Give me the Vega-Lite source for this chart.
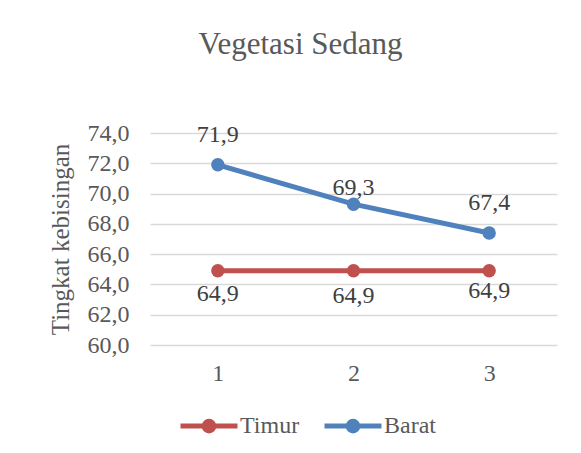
{
  "$schema": "https://vega.github.io/schema/vega-lite/v6.json",
  "width": 407,
  "height": 212,
  "autosize": {"type": "none"},
  "padding": {"left": 150, "top": 133, "right": 24, "bottom": 108},
  "background": "white",
  "config": {
    "locale": {"number": {"decimal": ",", "thousands": ".", "grouping": [3], "currency": ["", ""]}},
    "font": "Liberation Serif",
    "view": {"stroke": null},
    "axis": {"labelFont": "Liberation Serif", "titleFont": "Liberation Serif", "labelColor": "#595959", "titleColor": "#595959", "labelFontSize": 24, "titleFontSize": 25, "titleFontWeight": "normal"}
  },
  "title": {"text": "Vegetasi Sedang", "font": "Liberation Serif", "fontSize": 31, "fontWeight": "normal", "color": "#595959", "anchor": "middle", "dx": -53, "offset": 60},
  "data": {"values": [
    {"titik": "1", "sisi": "Timur", "nilai": 64.9},
    {"titik": "2", "sisi": "Timur", "nilai": 64.9},
    {"titik": "3", "sisi": "Timur", "nilai": 64.9},
    {"titik": "1", "sisi": "Barat", "nilai": 71.9},
    {"titik": "2", "sisi": "Barat", "nilai": 69.3},
    {"titik": "3", "sisi": "Barat", "nilai": 67.4}
  ]},
  "encoding": {
    "x": {"field": "titik", "type": "ordinal", "axis": {"title": null, "labelAngle": 0, "domain": false, "ticks": false, "labelPadding": 16}},
    "y": {"field": "nilai", "type": "quantitative", "scale": {"domain": [60, 74], "nice": false, "zero": false}, "axis": {"title": "Tingkat kebisingan", "values": [60, 62, 64, 66, 68, 70, 72, 74], "format": ".1f", "domain": false, "ticks": false, "labelPadding": 21, "grid": true, "gridColor": "#D9D9D9", "gridWidth": 1.5, "titlePadding": 14}},
    "color": {"field": "sisi", "type": "nominal", "scale": {"domain": ["Timur", "Barat"], "range": ["#C0504D", "#4F81BD"]},
      "legend": {"title": null, "orient": "none", "direction": "horizontal", "legendX": 28, "legendY": 262, "labelFont": "Liberation Serif", "labelFontSize": 24, "labelColor": "#595959", "symbolType": "M-1,0H1M-0.17,0A0.17,0.17 0 1,1 0.17,0A0.17,0.17 0 1,1 -0.17,0Z", "symbolSize": 3249, "symbolStrokeWidth": 5, "labelOffset": 0, "columnPadding": 14}}
  },
  "layer": [
    {"mark": {"type": "line", "strokeWidth": 5, "strokeCap": "round"}},
    {"mark": {"type": "circle", "size": 180, "opacity": 1}},
    {"transform": [{"filter": "datum.sisi === 'Barat' && datum.titik !== '2'"}],
     "mark": {"type": "text", "dy": -30, "baseline": "middle", "fontSize": 24, "font": "Liberation Serif"},
     "encoding": {"text": {"field": "nilai", "type": "quantitative", "format": ".1f"}, "color": {"value": "#404040"}}},
    {"transform": [{"filter": "datum.sisi === 'Barat' && datum.titik === '2'"}],
     "mark": {"type": "text", "dy": -16, "baseline": "middle", "fontSize": 24, "font": "Liberation Serif"},
     "encoding": {"text": {"field": "nilai", "type": "quantitative", "format": ".1f"}, "color": {"value": "#404040"}}},
    {"transform": [{"filter": "datum.sisi === 'Timur' && datum.titik === '1'"}],
     "mark": {"type": "text", "dy": 23, "baseline": "middle", "fontSize": 24, "font": "Liberation Serif"},
     "encoding": {"text": {"field": "nilai", "type": "quantitative", "format": ".1f"}, "color": {"value": "#404040"}}},
    {"transform": [{"filter": "datum.sisi === 'Timur' && datum.titik === '2'"}],
     "mark": {"type": "text", "dy": 25, "baseline": "middle", "fontSize": 24, "font": "Liberation Serif"},
     "encoding": {"text": {"field": "nilai", "type": "quantitative", "format": ".1f"}, "color": {"value": "#404040"}}},
    {"transform": [{"filter": "datum.sisi === 'Timur' && datum.titik === '3'"}],
     "mark": {"type": "text", "dy": 20, "baseline": "middle", "fontSize": 24, "font": "Liberation Serif"},
     "encoding": {"text": {"field": "nilai", "type": "quantitative", "format": ".1f"}, "color": {"value": "#404040"}}}
  ]
}
